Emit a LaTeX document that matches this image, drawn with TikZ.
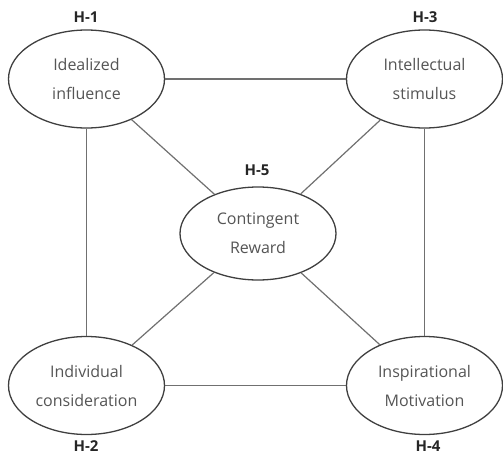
\documentclass[tikz,border=0pt]{standalone}
\usepackage{fontspec}
\setmainfont{Open Sans}
\usetikzlibrary{shapes.geometric}
\definecolor{txtgray}{HTML}{555555}
\definecolor{linegray}{HTML}{707070}
\definecolor{edgegray}{HTML}{3F3F3F}
\begin{document}
\begin{tikzpicture}[x=1pt,y=-1pt,
  construct/.style={ellipse,draw=edgegray,line width=1.3pt,fill=white,
    minimum width=156pt,minimum height=98pt,inner sep=0pt,align=center,
    text=txtgray,font=\fontsize{16}{29}\selectfont},
  hlabel/.style={font=\fontsize{15}{16}\selectfont\bfseries,text=black!85,inner sep=0pt},
  link/.style={draw=linegray,line width=1.2pt}]
\useasboundingbox (0,0) rectangle (503,455);
\node[construct] (h1) at (86.5,79) {Idealized\\influence};
\node[construct] (h3) at (424.5,79) {Intellectual\\stimulus};
\node[construct,minimum height=93pt] (h5) at (258,233.5) {Contingent\\Reward};
\node[construct] (h2) at (86.5,385.5) {Individual\\consideration};
\node[construct] (h4) at (424.5,385.5) {Inspirational\\Motivation};
\node[hlabel] (l1) at (86,17) {H-1};
\node[hlabel] (l3) at (425,17) {H-3};
\node[hlabel] (l5) at (257,170) {H-5};
\node[hlabel] (l2) at (86,446) {H-2};
\node[hlabel] (l4) at (428,446) {H-4};
\draw[link] (h1) -- (h3);
\draw[link] (h2) -- (h4);
\draw[link] (h1) -- (h2);
\draw[link] (h3) -- (h4);
\draw[link] (h1) -- (h5);
\draw[link] (h3) -- (h5);
\draw[link] (h2) -- (h5);
\draw[link] (h4) -- (h5);
\end{tikzpicture}
\end{document}
